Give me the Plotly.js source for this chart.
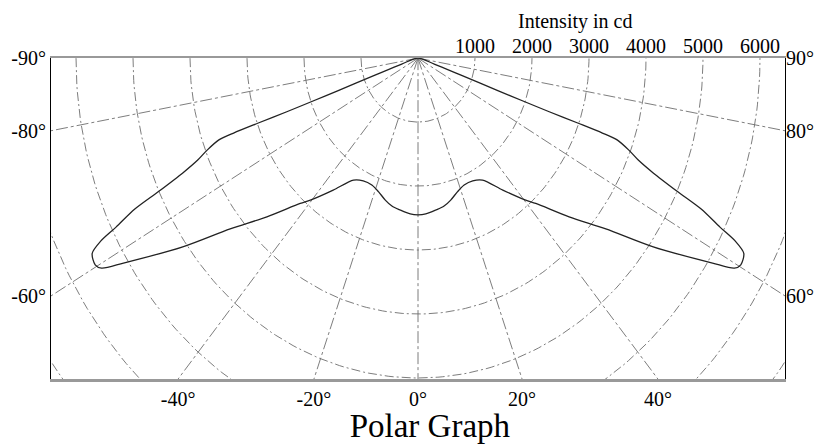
<!DOCTYPE html>
<html>
<head>
<meta charset="utf-8">
<script src="https://cdn.plot.ly/plotly-3.0.1.min.js"></script>
<style>html,body{margin:0;padding:0;background:#fff;}#chart{width:822px;height:445px;}</style>
</head>
<body>
<div id="chart"></div>
<script>
// Luminous intensity curve (one half, symmetric), ordered from 0° outward along the curve
const curveAngles = [0, 3.2, 7.5, 11.2, 14.5, 18.4, 22.2, 26.6, 30.7, 35.8, 40.4, 42.3, 46.9, 51.0, 54.4, 58.2, 59.4, 60.3, 61.9, 62.8, 63.5, 64.6, 65.4, 66.5, 67.6, 68.7, 69.9, 70.1, 70.1, 70.0, 70.0, 70.1, 70.6, 72.0, 90.0];
const curveIntensity = [2450, 2440, 2395, 2357, 2292, 2200, 2143, 2145, 2217, 2543, 2915, 3070, 3630, 4240, 5060, 6080, 6450, 6520, 6480, 6260, 5920, 5500, 5000, 4500, 4180, 3980, 3720, 3440, 2980, 2450, 1960, 1500, 800, 300, 0];

// Grid: intensity circles (cd) and radial angle lines (deg)
const circleIntensity = [1000, 2000, 3000, 4000, 5000, 6000, 7000, 8000];
const radialAngles = [-80, -60, -40, -20, 0, 20, 40, 60, 80];
const topTickValues = [1000, 2000, 3000, 4000, 5000, 6000];
const topTickLabels = ['1000', '2000', '3000', '4000', '5000', '6000'];
const sideAngles = [90, 80, 60];
const bottomAngles = [-40, -20, 0, 20, 40];

const XMAX = 6.439, YMIN = -5.016;
const rad = d => d * Math.PI / 180;
const toXY = (deg, cd) => [cd / 1000 * Math.sin(rad(deg)), -cd / 1000 * Math.cos(rad(deg))];

const traces = [];
const gridColor = '#6e6e6e';
circleIntensity.forEach(c => {
  const xs = [], ys = [];
  for (let a = -90; a <= 90; a += 1) { const p = toXY(a, c); xs.push(p[0]); ys.push(p[1]); }
  traces.push({x: xs, y: ys, mode: 'lines', line: {color: gridColor, width: 0.9, dash: '9px,3px,2px,3px'}, hoverinfo: 'skip', showlegend: false});
});
radialAngles.forEach(a => {
  const p = toXY(a, 12000);
  traces.push({x: [0, p[0]], y: [0, p[1]], mode: 'lines', line: {color: gridColor, width: 0.9, dash: '12px,3px,3px,3px'}, hoverinfo: 'skip', showlegend: false});
});

// full curve: left side (negative angles) from origin to centre, then right side
const cx = [], cy = [];
for (let i = curveAngles.length - 1; i >= 0; i--) { const p = toXY(-curveAngles[i], curveIntensity[i]); cx.push(p[0]); cy.push(p[1]); }
for (let i = 1; i < curveAngles.length; i++) { const p = toXY(curveAngles[i], curveIntensity[i]); cx.push(p[0]); cy.push(p[1]); }
traces.push({x: cx, y: cy, mode: 'lines', line: {color: '#222', width: 1.3, shape: 'spline', smoothing: 0.8}, hoverinfo: 'skip', showlegend: false});
traces.push({x: [0], y: [-1], xaxis: 'x2', yaxis: 'y2', mode: 'markers', marker: {opacity: 0}, hoverinfo: 'skip', showlegend: false});

const sideVals = sideAngles.map(a => -XMAX / Math.tan(rad(a)));
const bottomVals = bottomAngles.map(a => -YMIN * Math.tan(rad(a)));
const font = {family: 'Liberation Serif, Times New Roman, serif', size: 20, color: '#000'};

const layout = {
  width: 822, height: 445,
  margin: {l: 51, r: 37, t: 58, b: 66},
  paper_bgcolor: '#fff', plot_bgcolor: '#fff',
  font: font,
  showlegend: false,
  title: {text: 'Polar Graph', font: {family: 'Liberation Serif, Times New Roman, serif', size: 33, color: '#000'}, xref: 'container', yref: 'container', x: 0.523, xanchor: 'center', y: 0.045, yanchor: 'middle'},
  xaxis: {range: [-XMAX, XMAX], tickvals: bottomVals, ticktext: bottomAngles.map(a => a + '°'), showgrid: false, zeroline: false, showline: true, linecolor: '#999', linewidth: 2.5, mirror: true, ticks: '', tickfont: font, fixedrange: true},
  xaxis2: {overlaying: 'x', side: 'top', anchor: 'y', range: [-XMAX, XMAX], tickvals: topTickValues.map(v => v / 1000), ticktext: topTickLabels, showgrid: false, zeroline: false, showline: false, ticks: '', tickfont: font, fixedrange: true},
  yaxis: {range: [YMIN, 0.002], tickvals: sideVals, ticktext: sideAngles.map(a => '-' + a + '°'), showgrid: false, zeroline: false, showline: true, linecolor: '#000', linewidth: 1, mirror: true, ticks: '', tickfont: font, fixedrange: true},
  yaxis2: {overlaying: 'y', side: 'right', anchor: 'x', range: [YMIN, 0.002], tickvals: sideVals, ticktext: sideAngles.map(a => a + '°'), showgrid: false, zeroline: false, showline: false, ticks: '', tickfont: font, fixedrange: true},
  annotations: [{text: 'Intensity in cd', xref: 'paper', yref: 'paper', x: 0.714, y: 1.115, xanchor: 'center', yanchor: 'middle', showarrow: false, font: font}]
};
Plotly.newPlot('chart', traces, layout, {displayModeBar: false, staticPlot: true});
</script>
</body>
</html>
